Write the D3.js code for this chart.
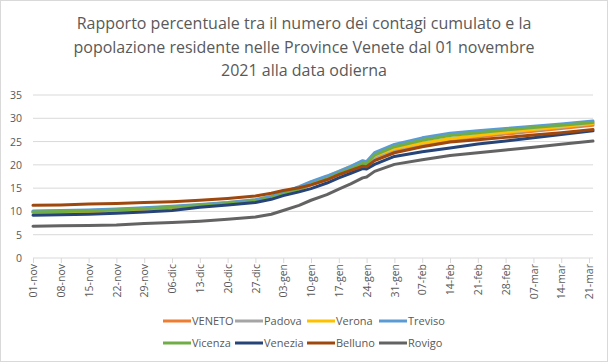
<!DOCTYPE html>
<html>
<head>
<meta charset="utf-8">
<script src="https://cdn.jsdelivr.net/npm/d3@7"></script>
<style>
  html, body { margin: 0; padding: 0; background: #fff; }
  svg { display: block; font-family: "Open Sans", "Noto Sans", sans-serif; }
</style>
</head>
<body>
<svg id="chart" width="608" height="362"></svg>
<script>
/* Contagi cumulati / popolazione, province venete. */

const dates = [
  "2021-11-01", "2021-11-08", "2021-11-15", "2021-11-22", "2021-11-29",
  "2021-12-06", "2021-12-13", "2021-12-20", "2021-12-27", "2021-12-31",
  "2022-01-03", "2022-01-07", "2022-01-10", "2022-01-14", "2022-01-17",
  "2022-01-20", "2022-01-23", "2022-01-24", "2022-01-26", "2022-01-31",
  "2022-02-07", "2022-02-14", "2022-02-21", "2022-02-28", "2022-03-07",
  "2022-03-14", "2022-03-22"
];

const veneto  = [9.8, 9.9, 10.0, 10.2, 10.5, 10.8, 11.2, 11.6, 12.2, 12.9, 13.7, 14.7, 15.7, 16.9, 17.9, 18.9, 20.0, 19.9, 21.4, 23.0, 24.3, 25.3, 26.0, 26.6, 27.2, 27.8, 28.5];
const padova  = [10.0, 10.1, 10.2, 10.4, 10.7, 11.0, 11.4, 11.8, 12.3, 13.0, 13.8, 14.9, 15.9, 17.0, 18.0, 19.0, 20.1, 20.0, 21.6, 23.3, 24.6, 25.6, 26.3, 26.9, 27.5, 28.1, 28.8];
const verona  = [9.7, 9.8, 9.9, 10.2, 10.5, 10.9, 11.4, 11.9, 12.5, 13.3, 14.1, 15.2, 16.3, 17.5, 18.6, 19.7, 20.8, 20.6, 22.0, 23.5, 24.7, 25.6, 26.3, 27.0, 27.6, 28.2, 28.9];
const treviso = [10.1, 10.2, 10.3, 10.5, 10.8, 11.1, 11.5, 11.9, 12.5, 13.2, 14.1, 15.3, 16.4, 17.6, 18.6, 19.7, 20.9, 20.7, 22.6, 24.4, 25.8, 26.8, 27.3, 27.8, 28.3, 28.8, 29.4];
const vicenza = [9.9, 10.0, 10.1, 10.3, 10.6, 10.9, 11.3, 11.7, 12.2, 12.9, 13.7, 14.8, 15.8, 17.0, 18.1, 19.1, 20.3, 20.2, 22.1, 23.9, 25.3, 26.3, 26.9, 27.5, 28.0, 28.5, 29.1];
const venezia = [9.2, 9.3, 9.4, 9.6, 9.9, 10.2, 10.9, 11.4, 11.9, 12.6, 13.4, 14.2, 14.9, 16.1, 17.2, 18.2, 19.2, 19.1, 20.1, 21.8, 22.8, 23.6, 24.5, 25.1, 25.8, 26.5, 27.3];
const belluno = [11.3, 11.4, 11.6, 11.7, 11.9, 12.1, 12.4, 12.8, 13.3, 13.9, 14.5, 15.1, 15.7, 16.8, 17.9, 18.8, 19.7, 19.6, 20.9, 22.6, 23.9, 24.9, 25.4, 25.9, 26.4, 26.9, 27.6];
const rovigo  = [6.8, 6.9, 7.0, 7.1, 7.4, 7.6, 7.9, 8.3, 8.8, 9.4, 10.2, 11.3, 12.4, 13.6, 14.8, 15.9, 17.2, 17.4, 18.6, 20.1, 21.1, 22.0, 22.6, 23.2, 23.8, 24.4, 25.1];

const seriesNames = ["VENETO", "Padova", "Verona", "Treviso", "Vicenza", "Venezia", "Belluno", "Rovigo"];
const seriesValues = [veneto, padova, verona, treviso, vicenza, venezia, belluno, rovigo];
const seriesColors = ["#ED7D31", "#A5A5A5", "#FFC000", "#5B9BD5", "#70AD47", "#264478", "#9E480E", "#636363"];

const yTicks = [0, 5, 10, 15, 20, 25, 30, 35];
const monthNames = ["gen", "feb", "mar", "apr", "mag", "giu", "lug", "ago", "set", "ott", "nov", "dic"];
const titleLines = [
  "Rapporto percentuale tra il numero dei contagi cumulato e la",
  "popolazione residente nelle Province Venete dal 01 novembre",
  "2021 alla data odierna"
];

const W = 608, H = 362;
const margin = { left: 33, right: 15, top: 95, bottom: 104 };
const parse = d3.utcParse("%Y-%m-%d");
const fmtTick = (d) => d3.utcFormat("%d")(d) + "-" + monthNames[d.getUTCMonth()];

const svg = d3.select("#chart");

svg.append("rect")
  .attr("x", 0.5).attr("y", 0.5)
  .attr("width", W - 1).attr("height", H - 1)
  .attr("fill", "#fff")
  .attr("stroke", "#D9D9D9");

const x = d3.scaleUtc()
  .domain([parse(dates[0]), parse(dates[dates.length - 1])])
  .range([margin.left, W - margin.right]);

const y = d3.scaleLinear()
  .domain([0, 35])
  .range([H - margin.bottom, margin.top]);

// title
svg.append("g")
  .selectAll("text")
  .data(titleLines)
  .join("text")
  .attr("x", W / 2)
  .attr("y", (d, i) => 29 + i * 23.5)
  .attr("text-anchor", "middle")
  .attr("fill", "#595959")
  .style("font-size", "16px")
  .text((d) => d);

// gridlines
svg.append("g")
  .selectAll("line")
  .data(yTicks.slice(1))
  .join("line")
  .attr("x1", margin.left).attr("x2", W - margin.right)
  .attr("y1", (d) => y(d)).attr("y2", (d) => y(d))
  .attr("stroke", "#D9D9D9")
  .attr("stroke-width", 1);

// y labels
svg.append("g")
  .selectAll("text")
  .data(yTicks)
  .join("text")
  .attr("x", 22)
  .attr("y", (d) => y(d) + 4)
  .attr("text-anchor", "end")
  .attr("fill", "#595959")
  .style("font-size", "10.5px")
  .text((d) => d);

// x axis
const xTicks = d3.utcDay.range(parse("2021-11-01"), parse("2022-03-22"), 7);
const xAxis = d3.axisBottom(x)
  .tickValues(xTicks)
  .tickSize(5)
  .tickFormat(fmtTick);

const gx = svg.append("g")
  .attr("transform", `translate(0,${y(0)})`)
  .call(xAxis);
gx.select(".domain").attr("stroke", "#D9D9D9").attr("d", `M${margin.left},0H${W - margin.right}`);
gx.selectAll(".tick line").attr("stroke", "#D9D9D9");
gx.selectAll(".tick text")
  .attr("fill", "#595959")
  .style("font-size", "10.5px")
  .style("font-family", "'Open Sans', sans-serif")
  .attr("transform", "rotate(-90)")
  .attr("text-anchor", "end")
  .attr("x", -6)
  .attr("y", 0)
  .attr("dy", "0.35em");

// lines
const line = d3.line()
  .x((d, i) => x(parse(dates[i])))
  .y((d) => y(d));

svg.append("g")
  .selectAll("path")
  .data(seriesValues)
  .join("path")
  .attr("d", line)
  .attr("fill", "none")
  .attr("stroke", (d, i) => seriesColors[i])
  .attr("stroke-width", 3)
  .attr("stroke-linejoin", "round")
  .attr("stroke-linecap", "round");

// legend
const legend = svg.append("g")
  .selectAll("g")
  .data(seriesNames)
  .join("g")
  .attr("transform", (d, i) => `translate(${163 + (i % 4) * 72},${321 + Math.floor(i / 4) * 22})`);

legend.append("line")
  .attr("x1", 0).attr("x2", 28)
  .attr("stroke", (d, i) => seriesColors[i])
  .attr("stroke-width", 3);

legend.append("text")
  .attr("x", 29)
  .attr("y", 4)
  .attr("fill", "#595959")
  .style("font-size", "11px")
  .text((d) => d);
</script>
</body>
</html>
